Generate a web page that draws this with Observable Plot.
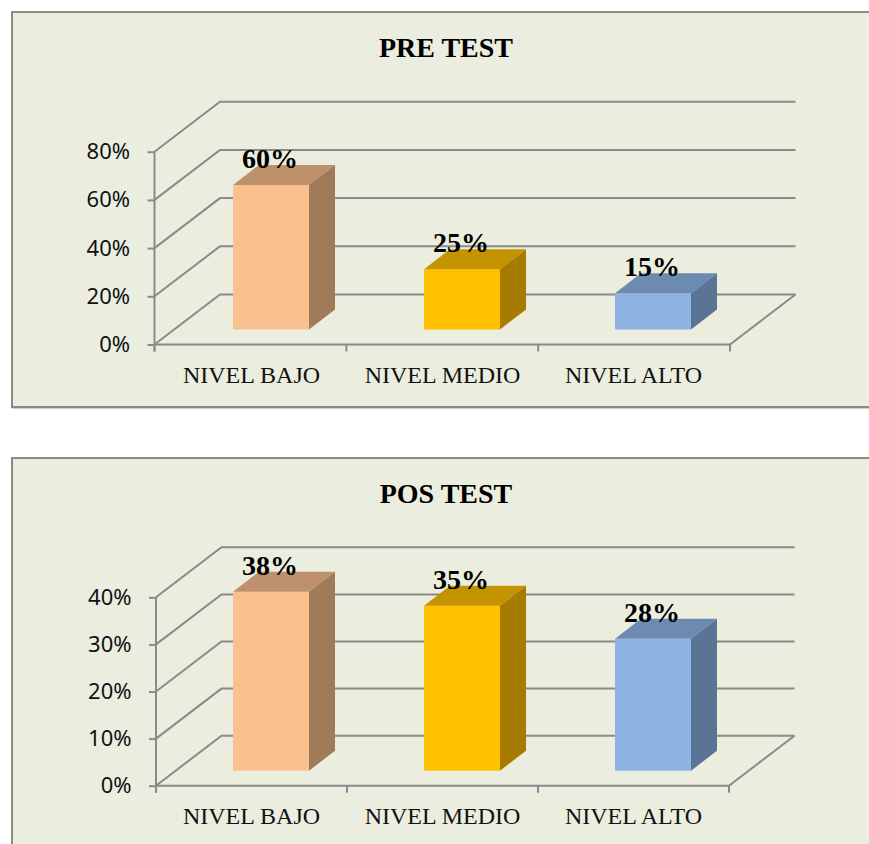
<!DOCTYPE html>
<html>
<head>
<meta charset="utf-8">
<script src="https://cdn.jsdelivr.net/npm/d3@7"></script>
<script src="https://cdn.jsdelivr.net/npm/@observablehq/plot@0.6"></script>
<style>
  html, body { margin: 0; padding: 0; background: #ffffff; }
  body { position: relative; width: 869px; height: 844px; overflow: hidden; }
  .panel { position: absolute; left: 11px; width: 870px; box-sizing: border-box;
           border: 2px solid #8a8a8a; background: #EBEEDF; box-shadow: 1px 1px 0 #cfcfcf; }
  .title { position: absolute; left: 11px; width: 870px; text-align: center;
           font: bold 28px "Liberation Serif", "Times New Roman", serif; line-height: 28px; color: #000; }
  .chart { position: absolute; left: 0; }
</style>
</head>
<body>
<div class="panel" style="top:11px;height:397px"></div>
<div class="panel" style="top:457px;height:420px"></div>
<div class="title" id="t1" style="top:34px"></div>
<div class="title" id="t2" style="top:480px"></div>
<div class="chart" id="c1" style="top:0px"></div>
<div class="chart" id="c2" style="top:440px"></div>
<script>
// ---- data ----
const categories = ["NIVEL BAJO", "NIVEL MEDIO", "NIVEL ALTO"];
const preValues  = [0.60, 0.25, 0.15];
const postValues = [0.38, 0.35, 0.28];
const preTicks   = [0, 0.2, 0.4, 0.6, 0.8];
const postTicks  = [0, 0.1, 0.2, 0.3, 0.4];
const preTitle   = "PRE TEST";
const postTitle  = "POS TEST";

// ---- styles ----
const frontColors = ["#FAC090", "#FFC000", "#8EB4E3"];
const topColors   = ["#BF906C", "#C49300", "#6D8AB1"];
const sideColors  = ["#A07B5A", "#A67B00", "#5B7496"];
const GRID = "#8a8a8a";
const SERIF = "'Liberation Serif', 'Times New Roman', serif";
const SANS = "'Noto Sans', 'Open Sans', sans-serif";
const DX = 65.5, DY = -50;      // wall depth offset
const BX = 20, BY = -15;        // bar front-face offset (bars sit inside the depth)
const BDX = 26, BDY = -20;      // bar depth
const pct = d3.format(".0%");

function wallMark(ticks) {
  return (index, scales) => {
    const {x, y} = scales;
    const [x0, x1] = x.range();
    const n = x.domain().length;
    const g = d3.create("svg:g").attr("fill", "none").attr("stroke", GRID).attr("stroke-width", 2);
    for (const t of ticks) {
      const yy = y(t);
      g.append("path").attr("d", `M${x0},${yy}L${x0 + DX},${yy + DY}L${x1 + DX},${yy + DY}`);
    }
    const y0 = y(0);
    g.append("path").attr("d", `M${x1},${y0}L${x1 + DX},${y0 + DY}`);
    g.append("path").attr("d", `M${x0},${y0}L${x1},${y0}`);
    g.append("path").attr("d", `M${x0},${y(ticks[ticks.length - 1])}L${x0},${y0 + 7}`);
    for (let i = 0; i <= n; i++) {
      const xx = x0 + i * (x1 - x0) / n;
      g.append("path").attr("d", `M${xx},${y0}L${xx},${y0 + 7}`);
    }
    return g.node();
  };
}

function boxMark(data) {
  return (index, scales) => {
    const {x, y} = scales;
    const w = x.bandwidth();
    const g = d3.create("svg:g");
    data.forEach((d, i) => {
      const xf = x(d.cat) + BX;
      const yt = y(d.value) + BY;
      const yb = y(0) + BY;
      g.append("path").attr("fill", topColors[i])
        .attr("d", `M${xf},${yt}L${xf + w},${yt}L${xf + w + BDX},${yt + BDY}L${xf + BDX},${yt + BDY}Z`);
      g.append("path").attr("fill", sideColors[i])
        .attr("d", `M${xf + w},${yt}L${xf + w + BDX},${yt + BDY}L${xf + w + BDX},${yb + BDY}L${xf + w},${yb}Z`);
    });
    return g.node();
  };
}

function chart(values, ticks, {height, marginTop, marginBottom, marginLeft, marginRight}) {
  const data = categories.map((c, i) => ({cat: c, value: values[i]}));
  return Plot.plot({
    width: 869, height, marginTop, marginBottom, marginLeft, marginRight,
    style: {background: "transparent", overflow: "visible"},
    x: {domain: categories, paddingInner: 0.6, paddingOuter: 0.3, label: null},
    y: {domain: [0, ticks[ticks.length - 1]], label: null},
    color: {domain: categories, range: frontColors},
    marks: [
      wallMark(ticks),
      Plot.axisY({ticks, tickFormat: pct, tickSize: 7, tickPadding: 18, stroke: GRID, strokeWidth: 2,
                  fill: "#111", fontSize: 22, fontFamily: SANS, label: null}),
      Plot.axisX({tickSize: 0, tickPadding: 21, fill: "#111", fontSize: 24, fontFamily: SERIF, label: null}),
      Plot.barY(data, {x: "cat", y: "value", fill: "cat", dx: BX, dy: BY}),
      boxMark(data),
      Plot.text(data, {x: "cat", y: "value", text: d => pct(d.value), dx: 18.5, dy: -32.5,
                       lineAnchor: "bottom", fontSize: 28, fontWeight: "bold", fontFamily: SERIF, fill: "#000"})
    ]
  });
}

document.getElementById("t1").textContent = preTitle;
document.getElementById("t2").textContent = postTitle;
document.getElementById("c1").append(chart(preValues, preTicks,
  {height: 420, marginTop: 151.7, marginBottom: 75.5, marginLeft: 154.5, marginRight: 139}));
document.getElementById("c2").append(chart(postValues, postTicks,
  {height: 404, marginTop: 157.3, marginBottom: 58.3, marginLeft: 156, marginRight: 140}));
</script>
</body>
</html>
